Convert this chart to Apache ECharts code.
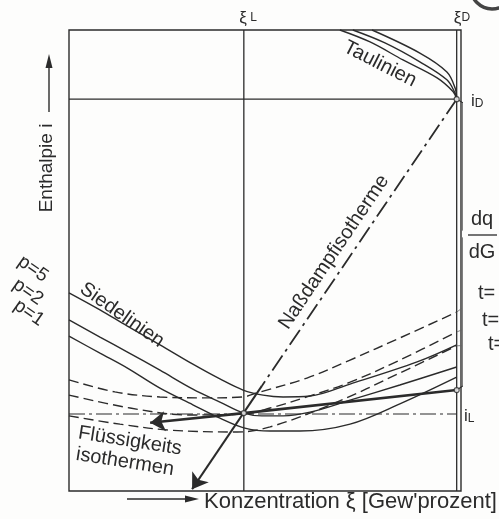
<!DOCTYPE html>
<html>
<head>
<meta charset="utf-8">
<script src="https://cdn.jsdelivr.net/npm/echarts@6/dist/echarts.min.js"></script>
<style>
html,body{margin:0;padding:0;background:#fdfdfc;}
#c{width:499px;height:519px;}
</style>
</head>
<body>
<div id="c"></div>
<script>
// ---- data (x: concentration 0..100 of frame, y: enthalpy 0..100 of frame) ----
const xiL = 44.6, xiD = 98.9, iD = 85.0, iL = 16.7;

const siedeP5 = [[0,43.0],[7.9,39.3],[14.8,35.8],[23.2,31.7],[31.6,27.5],[38.5,24.3],[44.4,21.9],[49.5,20.8],[54.6,20.4],[61.5,20.6],[71.7,23.2],[88.8,28.0],[98.9,31.7]];
const siedeP2 = [[0,37.1],[7.9,33.4],[14.8,30.2],[23.2,26.2],[31.6,22.1],[38.5,19.3],[44.6,16.9],[49.2,16.3],[54.6,16.3],[61.5,17.1],[71.7,19.7],[84.4,23.0],[98.9,26.9]];
const siedeP1 = [[0,33.6],[7.9,29.9],[14.8,26.7],[23.2,22.3],[31.6,18.7],[38.5,15.8],[44.6,13.7],[51.3,13.0],[58.9,13.0],[71.7,14.5],[84.4,18.9],[98.9,24.7]];

const isoT1 = [[0,24.1],[11.7,21.5],[23.2,20.4],[34.7,20.2],[44.4,20.4],[48.0,21.3],[60.7,24.5],[71.7,28.4],[84.4,33.2],[98.9,38.8]];
const isoT2 = [[0,20.8],[15.6,18.0],[30.1,16.5],[44.4,16.7],[51.3,18.0],[60.7,20.4],[71.7,23.6],[84.4,28.4],[98.9,34.5]];
const isoT3 = [[0,16.3],[13.0,14.5],[25.8,13.2],[42.9,12.8],[51.3,13.9],[67.3,18.9],[84.4,25.6],[98.9,31.5]];

const tau1 = [[69.1,100],[76.8,97.4],[85.2,93.5],[93.9,89.6],[98.0,86.6],[98.9,85.0]];
const tau2 = [[72.4,100],[80.6,97.2],[89.5,93.1],[96.4,89.2],[98.5,86.3],[98.9,85.0]];
const tau3 = [[77.3,100],[89.5,95.0],[96.4,90.9],[98.5,87.4],[98.9,85.0]];

const boldLine = [[44.6,16.9],[98.9,21.9]];
const fluessArrow = [[44.6,16.9],[20.7,14.8]];
const nassDash = [[98.9,85.0],[49.2,22.8]];
const nassArrow = [[49.2,22.8],[31.4,0.4]];
const brace = [[98.9,85.0],[100.5,84.2],[100.5,56.6],[101.3,55.7],[100.5,54.9],[100.5,22.8],[98.9,21.9]];
const knobs = [[98.9,85.0],[98.9,21.9],[44.6,16.9]];

const pLeaders = [
  [[-4.1,44.9],[-0.5,43.2]],
  [[-4.3,39.7],[-1.0,37.7]],
  [[-5.1,36.4],[-1.0,33.8]]
];
const tLeaders = [
  [[98.9,38.8],[104.6,42.5]],
  [[98.9,34.5],[105.4,36.7]],
  [[98.9,31.5],[106.6,31.7]]
];
const pLabels = ['p=5','p=2','p=1'];
const tLabels = ['t=','t=','t='];

// ---- chart ----
const INK = '#2b2b2b';
const FONT = '"Liberation Sans", Arial, sans-serif';
const chart = echarts.init(document.getElementById('c'), null, {renderer:'canvas'});

function ln(data, o) {
  o = o || {};
  return {
    type:'line', data:data, symbol:'none', silent:true, clip:false,
    smooth: o.smooth === undefined ? 0 : o.smooth,
    lineStyle:{color:o.color||INK, width:o.width||1.4, type:o.type||'solid'},
    z: o.z || 2
  };
}
function arrow(data, o) {
  return {
    type:'line', data:[], silent:true,
    markLine:{
      silent:true, symbol:['none','arrow'], symbolSize:o.size||14,
      label:{show:false},
      lineStyle:{color:INK, width:o.width||2, type:'solid'},
      emphasis:{disabled:true},
      data:[[{coord:data[0]},{coord:data[1]}]]
    }
  };
}

const series = [
  ln([[xiL,0],[xiL,100]], {width:1.3}),
  ln([[xiD,0],[xiD,100]], {width:1.3}),
  ln([[0,iD],[xiD,iD]], {width:1.3}),
  ln([[0,iL],[xiD,iL]], {width:1.2, type:[16,4,3,4]}),
  ln(siedeP5, {smooth:0.35}),
  ln(siedeP2, {smooth:0.35}),
  ln(siedeP1, {smooth:0.35}),
  ln(isoT1, {smooth:0.35, type:[10,5]}),
  ln(isoT2, {smooth:0.35, type:[10,5]}),
  ln(isoT3, {smooth:0.35, type:[10,5]}),
  ln(tau1, {smooth:0.35}),
  ln(tau2, {smooth:0.35}),
  ln(tau3, {smooth:0.35}),
  ln(boldLine, {width:2.6}),
  ln(nassDash, {width:1.8, type:[18,5,3,5]}),
  ln(brace, {width:1.1}),
  arrow(fluessArrow, {width:2.6, size:15}),
  arrow(nassArrow, {width:2, size:15}),
  {type:'scatter', data:knobs, symbol:'circle', symbolSize:5, silent:true,
   itemStyle:{color:'#fff', borderColor:INK, borderWidth:1.2}, z:5}
];
pLeaders.forEach(d => series.push(ln(d, {color:'#888', width:0.8})));
tLeaders.forEach(d => series.push(ln(d, {color:'#666', width:0.8})));

function txt(text, x, y, o) {
  o = o || {};
  return {
    type:'text', x:x, y:y, rotation:o.rot||0, silent:true, z:10,
    style:{text:text, fill:INK, font:(o.size||20)+'px '+FONT,
      textAlign:o.align||'center', textVerticalAlign:'middle', rich:o.rich}
  };
}
const deg = Math.PI/180;
const graphics = [
  txt('Taulinien', 380, 64, {rot:-27*deg}),
  txt('Siedelinien', 122, 315, {rot:-35*deg}),
  txt('Naßdampfisotherme', 334, 252, {rot:56*deg}),
  txt('Flüssigkeits', 130, 441, {rot:-9*deg}),
  txt('isothermen', 125, 462, {rot:-9*deg}),
  txt('Enthalpie i', 47, 168, {rot:90*deg, size:19}),
  txt('Konzentration ξ [Gew\'prozent]', 204, 502, {align:'left', size:22}),
  txt('dq', 482, 219),
  txt('dG', 482, 252),
  {type:'line', silent:true, shape:{x1:468,y1:235,x2:497,y2:235}, style:{stroke:INK, lineWidth:1.3}},
  {type:'text', x:248, y:18, silent:true, style:{text:'{a|ξ} {b|L}', textAlign:'center', textVerticalAlign:'middle',
     rich:{a:{font:'17px '+FONT, fill:INK}, b:{font:'12px '+FONT, fill:INK}}}},
  {type:'text', x:462, y:18, silent:true, style:{text:'{a|ξ}{b|D}', textAlign:'center', textVerticalAlign:'middle',
     rich:{a:{font:'17px '+FONT, fill:INK}, b:{font:'12px '+FONT, fill:INK}}}},
  {type:'text', x:471, y:101, silent:true, style:{text:'{a|i}{b|D}', textAlign:'left', textVerticalAlign:'middle',
     rich:{a:{font:'17px '+FONT, fill:INK}, b:{font:'12px '+FONT, fill:INK, padding:[6,0,0,0]}}}},
  {type:'text', x:464, y:416, silent:true, style:{text:'{a|i}{b|L}', textAlign:'left', textVerticalAlign:'middle',
     rich:{a:{font:'17px '+FONT, fill:INK}, b:{font:'12px '+FONT, fill:INK, padding:[6,0,0,0]}}}},
  // axis arrows
  {type:'line', silent:true, shape:{x1:49,y1:112,x2:49,y2:66}, style:{stroke:INK, lineWidth:1.4}},
  {type:'polygon', silent:true, shape:{points:[[49,54],[45.5,68],[52.5,68]]}, style:{fill:INK}},
  {type:'line', silent:true, shape:{x1:127,y1:499,x2:186,y2:499}, style:{stroke:INK, lineWidth:1.4}},
  {type:'polygon', silent:true, shape:{points:[[199,499],[185,495.5],[185,502.5]]}, style:{fill:INK}},
  // partial figure-number circle at top right
  {type:'arc', silent:true, shape:{cx:492, cy:-12, r:21, startAngle:0, endAngle:Math.PI}, style:{stroke:'#444', lineWidth:3.5, fill:null}}
];
const pPos = [[33,269],[28,292],[29,313]];
pLabels.forEach((t,i) => graphics.push(txt(t, pPos[i][0], pPos[i][1], {rot:-35*deg, size:19})));
const tPos = [[478,293],[482,320],[488,344]];
tLabels.forEach((t,i) => graphics.push(txt(t, tPos[i][0], tPos[i][1], {align:'left', size:20})));

chart.setOption({
  animation:false,
  backgroundColor:'#fdfdfc',
  grid:{left:69, top:30, width:392, height:461, show:true, borderColor:INK, borderWidth:1.4, backgroundColor:'transparent'},
  xAxis:{type:'value', min:0, max:100, show:false},
  yAxis:{type:'value', min:0, max:100, show:false},
  series:series,
  graphic:graphics
});
</script>
</body>
</html>
